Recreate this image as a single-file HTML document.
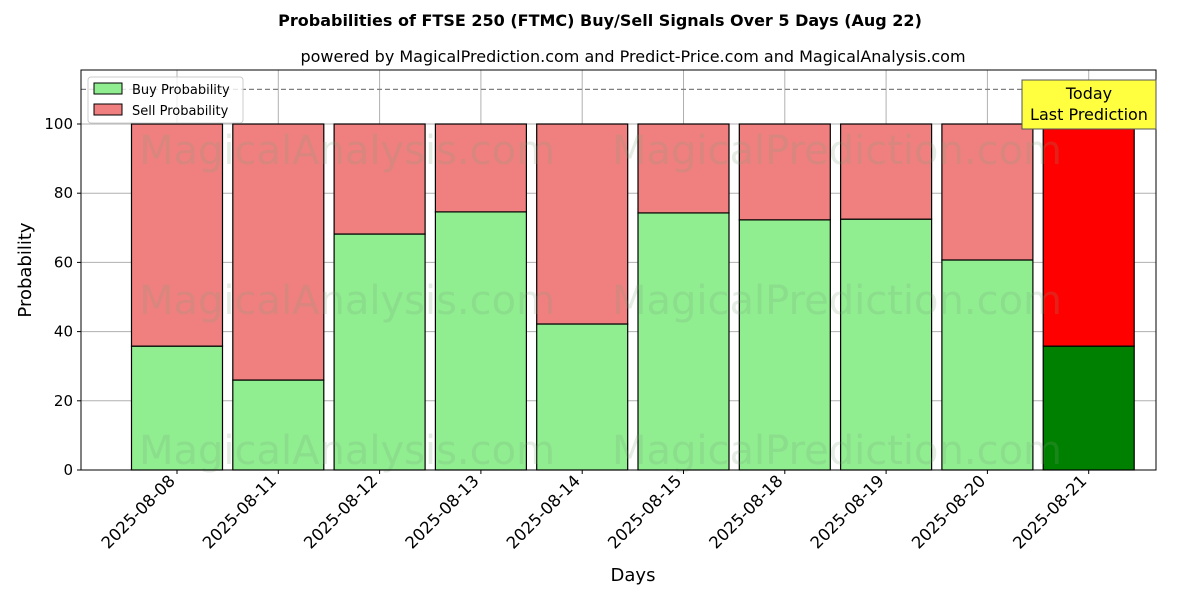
<!DOCTYPE html>
<html><head><meta charset="utf-8"><style>body{margin:0;background:#fff}svg{display:block;font-family:"DejaVu Sans","Liberation Sans",sans-serif}</style></head>
<body>
<svg id="c" width="1200" height="600" xmlns="http://www.w3.org/2000/svg"></svg>
<script>
const categories=["2025-08-08","2025-08-11","2025-08-12","2025-08-13","2025-08-14","2025-08-15","2025-08-18","2025-08-19","2025-08-20","2025-08-21"];
const buyValues=[35.8,26.0,68.2,74.6,42.2,74.3,72.3,72.5,60.7,35.8];
const sellValues=[64.2,74.0,31.8,25.4,57.8,25.7,27.7,27.5,39.3,64.2];
const yTicks=[0,20,40,60,80,100];
const svg=document.getElementById('c');const NS='http://www.w3.org/2000/svg';
const L=81,R=1156,T=70,B=470;
const xs=i=>177+i*101.3;const ys=v=>470-v*3.46;
function el(t,a,txt,name){const e=document.createElementNS(NS,t);for(const k in a)e.setAttribute(k,a[k]);if(txt!=null)e.textContent=txt;


svg.appendChild(e);return e;}
el('text',{x:600,y:26,'text-anchor':'middle','font-size':16,'font-weight':'bold'},'Probabilities of FTSE 250 (FTMC) Buy/Sell Signals Over 5 Days (Aug 22)','chart-title');
el('text',{x:633,y:62,'text-anchor':'middle','font-size':16},'powered by MagicalPrediction.com and Predict-Price.com and MagicalAnalysis.com','chart-subtitle');
categories.forEach((c,i)=>el('line',{x1:xs(i),x2:xs(i),y1:T,y2:B,stroke:'#b0b0b0','stroke-width':1},null,'x-grid-line'));
yTicks.forEach(v=>el('line',{x1:L,x2:R,y1:ys(v),y2:ys(v),stroke:'#b0b0b0','stroke-width':1},null,'y-grid-line'));
categories.forEach((c,i)=>{const last=i===categories.length-1;const x=xs(i)-45.5;
el('rect',{x:x,y:ys(buyValues[i]),width:91,height:buyValues[i]*3.46,fill:last?'#008000':'#90ee90',stroke:'#000','stroke-width':1.2},null,'buy-bar');
el('rect',{x:x,y:ys(buyValues[i]+sellValues[i]),width:91,height:sellValues[i]*3.46,fill:last?'#ff0000':'#f08080',stroke:'#000','stroke-width':1.2},null,'sell-bar');});
[[347,150,'MagicalAnalysis.com'],[837,150,'MagicalPrediction.com'],[347,300,'MagicalAnalysis.com'],[837,300,'MagicalPrediction.com'],[347,450,'MagicalAnalysis.com'],[837,450,'MagicalPrediction.com']].forEach(w=>el('text',{x:w[0],y:w[1]+14,'text-anchor':'middle','font-size':40,fill:'rgba(120,160,120,0.2)'},w[2],'watermark'));
el('line',{x1:L,x2:R,y1:ys(110),y2:ys(110),stroke:'#808080','stroke-width':1.3,'stroke-dasharray':'5,3'},null,'threshold-line');
el('rect',{x:L,y:T,width:R-L,height:B-T,fill:'none',stroke:'#000','stroke-width':1},null,'plot-frame');
yTicks.forEach(v=>{el('line',{x1:L-4,x2:L,y1:ys(v),y2:ys(v),stroke:'#000'},null,'y-tick');
el('text',{x:L-8,y:ys(v)+5,'text-anchor':'end','font-size':15},String(v),'y-tick-label');});
categories.forEach((c,i)=>{el('line',{x1:xs(i),x2:xs(i),y1:B,y2:B+4,stroke:'#000'},null,'x-tick');
const tx=xs(i)-1,ty=B+12;
el('text',{x:tx,y:ty,'text-anchor':'end','font-size':16.5,transform:`rotate(-45 ${tx} ${ty})`},c,'x-tick-label');});
el('text',{x:633,y:581,'text-anchor':'middle','font-size':18},'Days','x-axis-title');
el('text',{x:31,y:270,'text-anchor':'middle','font-size':18,transform:'rotate(-90 31 270)'},'Probability','y-axis-title');
el('rect',{x:88,y:77,width:155,height:46,fill:'#fff','fill-opacity':0.8,stroke:'#ccc',rx:3},null,'legend-box');
el('rect',{x:94,y:83,width:28,height:11,fill:'#90ee90',stroke:'#000'},null,'legend-buy-swatch');
el('text',{x:132,y:94,'font-size':13},'Buy Probability','legend-buy-label');
el('rect',{x:94,y:104,width:28,height:11,fill:'#f08080',stroke:'#000'},null,'legend-sell-swatch');
el('text',{x:132,y:115,'font-size':13},'Sell Probability','legend-sell-label');
el('rect',{x:1022,y:80,width:134,height:49,fill:'#ffff40',stroke:'#555'},null,'today-annotation-box');
el('text',{x:1089,y:99,'text-anchor':'middle','font-size':16},'Today','today-annotation');
el('text',{x:1089,y:120,'text-anchor':'middle','font-size':16},'Last Prediction','last-prediction-annotation');
</script>
</body></html>
